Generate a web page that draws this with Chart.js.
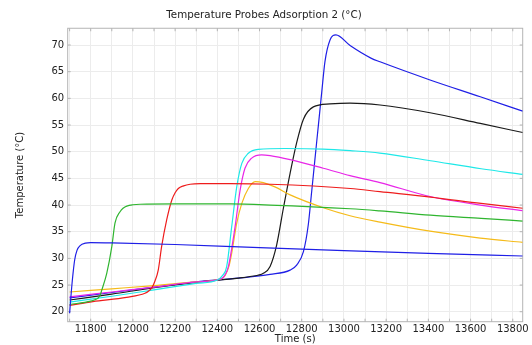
<!DOCTYPE html>
<html><head><meta charset="utf-8">
<script src="https://cdn.jsdelivr.net/npm/chart.js@4/dist/chart.umd.min.js"></script>
<style>html,body{margin:0;padding:0;background:#fff;overflow:hidden}</style>
</head><body>
<canvas id="c" width="532" height="345" style="display:block;width:532px;height:345px"></canvas>
<script>
const chartTitle = 'Temperature Probes Adsorption 2 (°C)';
const xAxisTitle = 'Time (s)';
const yAxisTitle = 'Temperature (°C)';
const xTickLabels = [11800, 12000, 12200, 12400, 12600, 12800, 13000, 13200, 13400, 13600, 13800];
const xGridValues = [11700, 11800, 11900, 12000, 12100, 12200, 12300, 12400, 12500, 12600, 12700, 12800, 12900, 13000, 13100, 13200, 13300, 13400, 13500, 13600, 13700, 13800];
const yTickLabels = [20, 25, 30, 35, 40, 45, 50, 55, 60, 65, 70];
const xRange = [11691, 13847];
const yRange = [18.13, 73.14];

const probe1Time = [11700, 11705, 11713, 11724, 11735, 11750, 11775, 11800, 11900, 12200, 12600, 13000, 13400, 13847];
const probe1Temp = [19.7, 22.2, 25.9, 29.7, 31.5, 32.4, 32.85, 32.95, 32.9, 32.6, 32.0, 31.45, 30.95, 30.45];

const probe2Time = [11700, 11800, 11820, 11835, 11845, 11852, 11876, 11900, 11915, 11939, 11955, 11971, 12000, 12034, 12200, 12460, 12650, 13030, 13170, 13410, 13650, 13847];
const probe2Temp = [21.35, 22.0, 22.25, 22.55, 23.1, 24.0, 27.2, 32.2, 36.6, 38.75, 39.45, 39.8, 40.05, 40.15, 40.2, 40.2, 40.0, 39.3, 38.9, 38.1, 37.5, 37.0];

const probe3Time = [11700, 11810, 11970, 12057, 12075, 12090, 12105, 12120, 12136, 12160, 12184, 12200, 12215, 12240, 12271, 12320, 12460, 12650, 13030, 13170, 13410, 13650, 13847];
const probe3Temp = [21.2, 21.9, 22.7, 23.45, 23.9, 24.5, 25.8, 27.8, 32.2, 37.2, 40.9, 42.3, 43.1, 43.6, 43.9, 44.0, 44.0, 43.9, 43.1, 42.5, 41.5, 40.3, 39.4];

const probe4Time = [11700, 11900, 12100, 12300, 12400, 12425, 12444, 12468, 12492, 12516, 12547, 12594, 12720, 12900, 13030, 13170, 13410, 13650, 13847];
const probe4Temp = [21.8, 22.9, 24.1, 25.3, 25.95, 26.8, 28.4, 35.9, 43.4, 47.8, 49.7, 50.45, 50.6, 50.5, 50.2, 49.75, 48.3, 46.8, 45.75];

const probe5Time = [11700, 11900, 12100, 12300, 12420, 12438, 12452, 12484, 12508, 12531, 12563, 12610, 12650, 12745, 12902, 13029, 13171, 13408, 13646, 13847];
const probe5Temp = [22.8, 23.7, 24.6, 25.6, 26.2, 27.0, 28.4, 35.9, 42.8, 46.9, 48.8, 49.4, 49.25, 48.5, 46.9, 45.5, 44.2, 41.6, 40.0, 38.95];

const probe6Time = [11700, 11900, 12100, 12300, 12420, 12437, 12455, 12468, 12492, 12516, 12547, 12579, 12618, 12673, 12745, 12902, 13029, 13171, 13408, 13646, 13847];
const probe6Temp = [23.7, 24.3, 24.9, 25.6, 26.2, 26.8, 28.5, 30.95, 36.6, 40.3, 43.1, 44.4, 44.2, 43.4, 41.9, 39.5, 38.0, 36.8, 35.1, 33.8, 33.0];

const probe7Time = [11700, 11900, 12100, 12300, 12500, 12555, 12618, 12650, 12681, 12713, 12745, 12776, 12808, 12855, 12934, 13029, 13171, 13408, 13646, 13847];
const probe7Temp = [22.2, 23.3, 24.5, 25.5, 26.3, 26.6, 27.2, 28.5, 32.5, 39.4, 46.0, 51.7, 56.1, 58.4, 58.95, 59.1, 58.75, 57.3, 55.3, 53.6];

const probe8Time = [11700, 11900, 12100, 12300, 12500, 12650, 12745, 12776, 12808, 12831, 12847, 12871, 12895, 12910, 12934, 12962, 13029, 13130, 13171, 13408, 13646, 13847];
const probe8Temp = [22.6, 23.6, 24.6, 25.6, 26.3, 27.0, 27.8, 28.75, 31.25, 36.3, 42.5, 51.9, 61.25, 66.9, 70.95, 71.9, 69.9, 67.5, 66.85, 63.45, 60.3, 57.6];

const seriesColors = ['#1f1fe6', '#2fb52f', '#ee1c1c', '#1ee8e8', '#e826e8', '#f5bb1a', '#1a1a1a', '#1f1fe6'];
const seriesTimes = [probe1Time, probe2Time, probe3Time, probe4Time, probe5Time, probe6Time, probe7Time, probe8Time];
const seriesTemps = [probe1Temp, probe2Temp, probe3Temp, probe4Temp, probe5Temp, probe6Temp, probe7Temp, probe8Temp];

const datasets = seriesTimes.map((ts, i) => ({
  label: 'Probe ' + (i + 1),
  data: ts.map((t, j) => ({x: t, y: seriesTemps[i][j]})),
  borderColor: seriesColors[i],
  borderWidth: 1.2,
  pointRadius: 0,
  fill: false,
  cubicInterpolationMode: 'monotone'
}));

const PAD_LEFT = 5.3, PLOT_LEFT = 67.7, PLOT_RIGHT_PAD = 9.3, XAXIS_H = 23.3;

const framePlugin = {
  id: 'frame',
  beforeDatasetsDraw(chart) {
    const {ctx, chartArea: a, scales} = chart;
    ctx.save();
    ctx.strokeStyle = '#b4b4b4';
    ctx.lineWidth = 1;
    ctx.strokeRect(a.left, a.top, a.right - a.left, a.bottom - a.top);
    ctx.beginPath();
    xGridValues.forEach(v => {
      const x = scales.x.getPixelForValue(v);
      ctx.moveTo(x, a.bottom); ctx.lineTo(x, a.bottom - 3);
      ctx.moveTo(x, a.top); ctx.lineTo(x, a.top + 3);
    });
    yTickLabels.forEach(v => {
      const y = scales.y.getPixelForValue(v);
      ctx.moveTo(a.left, y); ctx.lineTo(a.left + 3, y);
      ctx.moveTo(a.right, y); ctx.lineTo(a.right - 3, y);
    });
    ctx.stroke();
    ctx.restore();
  }
};

new Chart(document.getElementById('c'), {
  type: 'line',
  data: {datasets},
  options: {
    responsive: false,
    animation: false,
    devicePixelRatio: 1,
    layout: {padding: {left: PAD_LEFT, right: PLOT_RIGHT_PAD, top: 0, bottom: 0}},
    plugins: {
      legend: {display: false},
      tooltip: {enabled: false},
      title: {
        display: true, text: chartTitle, color: '#222',
        font: {family: 'DejaVu Sans', size: 10.3, weight: 'normal'},
        padding: {top: 9.6, bottom: 6.3}
      }
    },
    scales: {
      x: {
        type: 'linear', min: xRange[0], max: xRange[1],
        afterBuildTicks(s) { s.ticks = xGridValues.map(v => ({value: v})); },
        afterFit(s) { s.height = XAXIS_H; s.paddingLeft = 0; s.paddingRight = 0; },
        ticks: {
          autoSkip: false, maxRotation: 0, padding: 2, color: '#222',
          font: {family: 'DejaVu Sans', size: 10},
          callback: v => xTickLabels.includes(v) ? String(v) : ''
        },
        grid: {color: '#ececec', drawTicks: false},
        border: {display: false},
        title: {display: true, text: xAxisTitle, color: '#222', font: {family: 'DejaVu Sans', size: 10}, padding: {top: 0, bottom: 0}}
      },
      y: {
        type: 'linear', min: yRange[0], max: yRange[1],
        afterBuildTicks(s) { s.ticks = yTickLabels.map(v => ({value: v})); },
        afterFit(s) { s.width = PLOT_LEFT - PAD_LEFT; s.paddingTop = 0; s.paddingBottom = 0; },
        ticks: {padding: 3.5, color: '#222', font: {family: 'DejaVu Sans', size: 10}},
        grid: {color: '#ececec', drawTicks: false},
        border: {display: false},
        title: {display: true, text: yAxisTitle, color: '#222', font: {family: 'DejaVu Sans', size: 10}, padding: {top: 8.7, bottom: 0}}
      }
    }
  },
  plugins: [framePlugin]
});
</script>
</body></html>
